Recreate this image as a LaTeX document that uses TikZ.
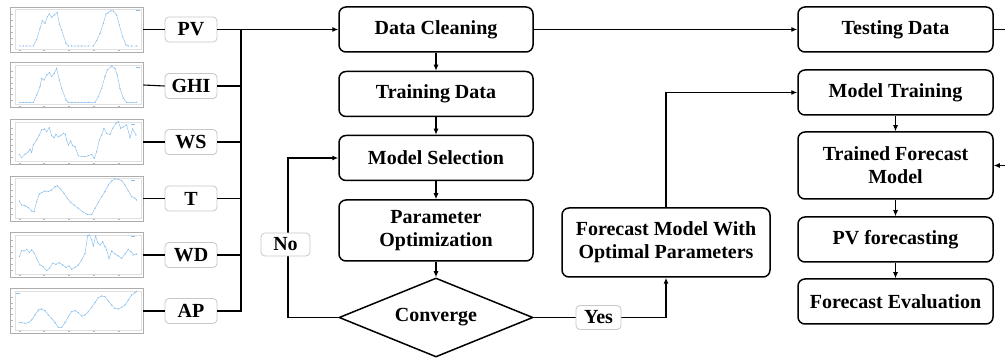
\documentclass[tikz,border=0pt]{standalone}
\usepackage{fontspec}
\setmainfont{Liberation Serif}
\usetikzlibrary{arrows.meta,shapes.geometric}

\definecolor{curveblue}{RGB}{140,192,235}

% faint axes, ticks and legend stub inside a small chart (coordinates in 1/3 px)
\newcommand\chartgrid[3]{%
  \draw[black!12, line width=0.3pt] (44,#1+6) rectangle (424,#2-9);
  \foreach \tx in {60,133,207,282,356}
    \draw[black!28, line width=0.5pt] (\tx-3,#2-4) -- (\tx+3,#2-4);
  \foreach \ty in {0.15,0.3,0.45,0.6,0.75,0.9}
    \draw[black!28, line width=0.5pt] (34,{#1+6+\ty*(#2-#1-15)}) -- (39,{#1+6+\ty*(#2-#1-15)});
  \draw[curveblue, line width=0.6pt] (#3,#1+12) -- (#3+12,#1+12);
}

\begin{document}
\begin{tikzpicture}[x=1pt, y=-1pt,
  stage/.style={draw=black, line width=1.5pt, rounded corners=7pt,
    minimum width=194pt, minimum height=45pt, align=center, inner sep=2pt,
    font=\fontsize{20}{23}\selectfont\bfseries},
  tag/.style={draw=black!22, line width=0.8pt, rounded corners=4pt, fill=white,
    minimum width=52pt, minimum height=25pt, inner sep=2pt,
    font=\fontsize{20}{23}\selectfont\bfseries},
  chart/.style={draw=black!32, line width=0.8pt, minimum width=133pt,
    minimum height=45pt, inner sep=0pt},
  curve/.style={draw=curveblue, line width=0.45pt, mark=*, mark size=0.35pt,
    mark options={fill=curveblue, draw=curveblue}},
  link/.style={line width=1.1pt},
  flow/.style={line width=1.1pt, -{Latex[length=6pt,width=5pt]}}
]
\useasboundingbox (0,0) rectangle (1005,358);

% ---------------- input charts ----------------
\node[chart] (c1) at (76.5,29.5) {};
\node[chart] (c2) at (76.5,85)   {};
\node[chart] (c3) at (76.5,142)  {};
\node[chart] (c4) at (76.5,198.5){};
\node[chart] (c5) at (76.5,255)  {};
\node[chart] (c6) at (76.5,311)  {};

\begin{scope}[x=0.3333pt, y=-0.3333pt]
  \chartgrid{20}{155}{408}
  \draw[curve] plot coordinates {(60,138)(70,138)(80,138)(90,138)(100,138)(110,118)(120,85)(127,62)(135,70)(142,50)(148,42)(155,52)(163,45)(172,37)(178,72)(185,90)(198,130)(205,138)(215,138)(225,138)(235,138)(245,138)(255,138)(265,138)(280,138)(290,122)(300,100)(310,70)(318,42)(325,38)(333,32)(340,33)(350,45)(358,75)(368,110)(378,135)(385,138)(395,138)(410,138)};
  \chartgrid{190}{322}{408}
  \draw[curve] plot coordinates {(58,307)(70,307)(80,307)(90,307)(100,307)(110,285)(120,260)(125,235)(132,240)(140,225)(148,218)(155,230)(163,220)(170,205)(178,240)(185,265)(198,300)(205,307)(215,307)(225,307)(235,307)(245,307)(255,307)(265,307)(285,307)(295,290)(305,265)(315,230)(322,210)(335,198)(345,205)(352,225)(360,265)(370,295)(380,307)(395,307)(410,307)};
\end{scope}

\begin{scope}[yshift=-115pt, x=0.3333pt, y=-0.3333pt]
  \chartgrid{15}{148}{392}
  \draw[curve] plot coordinates {(58,118)(65,128)(75,118)(85,110)(90,103)(95,113)(100,90)(110,75)(118,60)(125,45)(133,42)(140,50)(148,38)(155,62)(162,68)(168,58)(175,65)(182,62)(190,55)(196,58)(200,75)(205,90)(212,78)(218,92)(225,95)(235,122)(245,125)(255,125)(265,122)(275,118)(283,130)(290,110)(298,75)(305,60)(312,40)(320,55)(330,58)(338,40)(348,25)(355,20)(362,40)(370,35)(380,30)(390,68)(398,42)(408,60)};
  \chartgrid{183}{318}{392}
  \draw[curve] plot coordinates {(58,258)(65,270)(75,272)(85,278)(95,288)(102,290)(110,260)(118,237)(125,233)(135,228)(145,230)(155,225)(165,215)(172,213)(182,222)(192,235)(202,250)(212,262)(222,270)(235,280)(248,290)(262,298)(275,298)(285,280)(295,262)(305,245)(315,230)(325,210)(335,198)(345,192)(355,193)(365,197)(375,210)(385,228)(395,245)(405,250)(410,255)};
\end{scope}

\begin{scope}[yshift=-230pt, x=0.3333pt, y=-0.3333pt]
  \chartgrid{8}{140}{392}
  \draw[curve] plot coordinates {(58,80)(65,62)(72,63)(80,58)(88,68)(95,60)(103,70)(110,85)(120,105)(130,110)(140,122)(148,115)(158,100)(168,103)(178,98)(188,105)(198,112)(208,108)(215,118)(225,112)(235,105)(245,90)(255,70)(263,18)(268,15)(275,30)(280,48)(287,18)(293,38)(300,45)(308,35)(315,50)(320,60)(327,85)(335,63)(345,72)(355,78)(365,85)(375,72)(385,58)(393,65)(400,75)(410,72)};
  \chartgrid{178}{308}{48}
  \draw[curve] plot coordinates {(58,277)(65,278)(75,280)(85,278)(95,270)(105,255)(115,240)(125,237)(135,242)(145,255)(155,265)(165,278)(175,292)(185,292)(195,278)(205,260)(215,245)(225,242)(235,248)(245,258)(255,255)(265,245)(275,232)(285,218)(295,203)(305,198)(315,200)(325,213)(335,225)(345,235)(355,237)(365,232)(375,225)(385,210)(395,195)(405,188)(410,185)};
\end{scope}

% ---------------- variable tags ----------------
\node[tag] (pv)  at (191,29.5) {PV};
\node[tag] (ghi) at (191,86)   {GHI};
\node[tag] (ws)  at (191,142)  {WS};
\node[tag] (t)   at (191,198.5){T};
\node[tag] (wd)  at (191,255)  {WD};
\node[tag] (ap)  at (191,311)  {AP};

\foreach \c/\v in {c1/pv,c2/ghi,c3/ws,c4/t,c5/wd,c6/ap}
  \draw[link] (\c.east) -- (\v.west);

\coordinate (bus) at (241,29.5);

% ---------------- process stages ----------------
\node[stage] (clean) at (436,29.5)  {Data Cleaning};
\node[stage] (train) at (436,94)    {Training Data};
\node[stage] (msel)  at (436,158)   {Model Selection};
\node[stage, minimum height=61pt] (popt) at (436,230.5) {Parameter\\Optimization};
\node[draw, line width=1.5pt, diamond, inner sep=0pt, minimum width=194pt,
      minimum height=79pt, aspect=2.45, font=\fontsize{20}{23}\selectfont\bfseries]
      (conv) at (436,317.5) {Converge};

\node[stage, minimum width=208pt, minimum height=69pt] (fopt) at (666,242.5)
      {Forecast Model With\\Optimal Parameters};

\node[stage, minimum width=195pt] (test)  at (895.5,29.5) {Testing Data};
\node[stage, minimum width=195pt] (mtrain) at (895.5,92.5) {Model Training};
\node[stage, minimum width=195pt, minimum height=67pt] (tfm) at (895.5,165.5)
      {Trained Forecast\\Model};
\node[stage, minimum width=195pt] (pvf)  at (895.5,239.5) {PV forecasting};
\node[stage, minimum width=195pt] (feval) at (895.5,301.5) {Forecast Evaluation};

% ---------------- connectors ----------------
\foreach \v in {ghi,ws,t,wd}
  \draw[link] (\v.east) -- (\v.east -| bus);
\draw[link] (ap.east) -| (bus);
\draw[flow] (pv.east) -- (clean.west);

\draw[flow] (clean) -- (train);
\draw[flow] (train) -- (msel);
\draw[flow] (msel) -- (popt);
\draw[flow] (popt) -- (conv);

\coordinate (nobend) at (288,317.5);
\draw[flow] (conv.west) -- (nobend) |- (msel.west);
\node[tag, minimum width=49pt, minimum height=23pt] (no) at (285.5,244.5) {No};

\draw[flow] (conv.east) -| (fopt.south);
\node[tag, minimum width=45pt, minimum height=24pt] (yes) at (598.5,317.5) {Yes};

\draw[flow] (fopt.north) |- (mtrain.west);
\draw[flow] (clean.east) -- (test.west);

\coordinate (rbend) at (1014,165.5);
\draw[flow] (test.east) -| (rbend) -- (tfm.east);

\draw[flow] (mtrain) -- (tfm);
\draw[flow] (tfm) -- (pvf);
\draw[flow] (pvf) -- (feval);
\end{tikzpicture}
\end{document}
